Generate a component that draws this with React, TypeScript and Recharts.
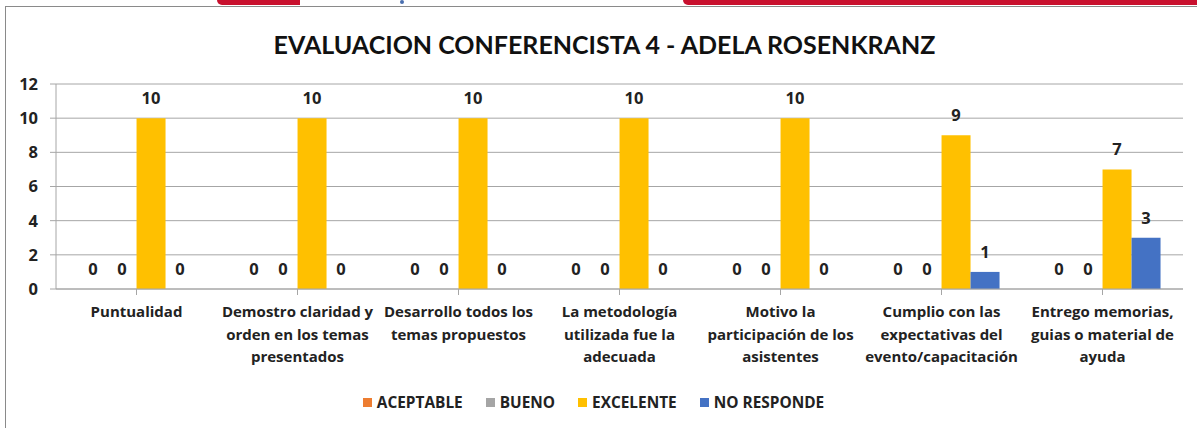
import { Bar, BarChart, CartesianGrid, LabelList, Legend, XAxis, YAxis } from "recharts";

const categories = [
  "Puntualidad",
  "Demostro claridad y\norden en los temas\npresentados",
  "Desarrollo todos los\ntemas propuestos",
  "La metodología\nutilizada fue la\nadecuada",
  "Motivo la\nparticipación de los\nasistentes",
  "Cumplio con las\nexpectativas del\nevento/capacitación",
  "Entrego memorias,\nguias o material de\nayuda",
];

const aceptable = [0, 0, 0, 0, 0, 0, 0];
const bueno = [0, 0, 0, 0, 0, 0, 0];
const excelente = [10, 10, 10, 10, 10, 9, 7];
const noResponde = [0, 0, 0, 0, 0, 1, 3];

const yTicks = [0, 2, 4, 6, 8, 10, 12];

const SERIES = [
  { key: "aceptable", name: "ACEPTABLE", color: "#ED7D31" },
  { key: "bueno", name: "BUENO", color: "#A5A5A5" },
  { key: "excelente", name: "EXCELENTE", color: "#FFC000" },
  { key: "noResponde", name: "NO RESPONDE", color: "#4472C4" },
];

const TITLE_FONT = "Lato, sans-serif";
const FONT = "'Open Sans', sans-serif";

const data = categories.map((c, i) => ({
  name: c,
  aceptable: aceptable[i],
  bueno: bueno[i],
  excelente: excelente[i],
  noResponde: noResponde[i],
}));

function CategoryTick({ x, y, payload }: any) {
  const lines = String(payload.value).split("\n");
  return (
    <text x={x} y={y + 20} textAnchor="middle" fontFamily={FONT} fontWeight={700} fontSize={15} fill="#222">
      {lines.map((l, i) => (
        <tspan key={i} x={x} dy={i === 0 ? 0 : 22.5}>
          {l}
        </tspan>
      ))}
    </text>
  );
}

function LegendContent() {
  return (
    <div style={{ display: "flex", justifyContent: "center", alignItems: "center", height: 36, paddingLeft: 4 }}>
      {SERIES.map((s, i) => (
        <div key={s.key} style={{ display: "flex", alignItems: "center", marginRight: i === SERIES.length - 1 ? 0 : 23 }}>
          <span style={{ width: 9, height: 9, background: s.color, display: "inline-block", marginRight: 5 }} />
          <span style={{ fontFamily: FONT, fontWeight: 700, fontSize: 15.4, color: "#222" }}>{s.name}</span>
        </div>
      ))}
    </div>
  );
}

export default function App() {
  return (
    <div style={{ position: "absolute", left: 0, top: 0, width: 1197, height: 428, background: "#fff", overflow: "hidden" }}>
      <div style={{ position: "absolute", left: 217, top: 0, width: 83, height: 5, background: "#C8102E", borderBottomLeftRadius: 40 }} />
      <div style={{ position: "absolute", left: 400, top: 0, width: 4, height: 4, background: "#4a6fb0", borderRadius: 2 }} />
      <div style={{ position: "absolute", left: 683, top: 0, width: 520, height: 5, background: "#C8102E", borderBottomLeftRadius: 6 }} />
      <div style={{ position: "absolute", left: 5, top: 6, width: 1300, height: 500, border: "1px solid #8a8a8a", boxSizing: "border-box" }} />
      <div
        style={{
          position: "absolute",
          left: 0,
          top: 28,
          width: 1209,
          textAlign: "center",
          fontFamily: TITLE_FONT,
          fontWeight: 700,
          fontSize: 25,
          color: "#111",
          lineHeight: "32px",
        }}
      >
        EVALUACION CONFERENCISTA 4 - ADELA ROSENKRANZ
      </div>
      <div style={{ position: "absolute", left: 0, top: 0 }}>
        <BarChart
          width={1197}
          height={428}
          data={data}
          margin={{ top: 84, right: 14, left: 0, bottom: 8 }}
          barCategoryGap="14%"
          barGap={0}
        >
          <CartesianGrid vertical={false} stroke="#a6a6a6" strokeWidth={1} />
          <XAxis
            dataKey="name"
            interval={0}
            height={95}
            tick={<CategoryTick />}
            axisLine={{ stroke: "#a6a6a6" }}
            tickLine={{ stroke: "#a6a6a6" }}
            tickSize={6}
            scale="band"
          />
          <YAxis
            domain={[0, 12]}
            ticks={yTicks}
            width={56}
            tickSize={6}
            tickMargin={12}
            axisLine={{ stroke: "#a6a6a6" }}
            tickLine={{ stroke: "#a6a6a6" }}
            tick={{ fontFamily: FONT, fontWeight: 700, fontSize: 16.5, fill: "#222" }}
          />
          <Legend verticalAlign="bottom" content={<LegendContent />} />
          {SERIES.map((s) => (
            <Bar key={s.key} dataKey={s.key} name={s.name} fill={s.color} minPointSize={0.01} isAnimationActive={false}>
              <LabelList
                dataKey={s.key}
                position="top"
                offset={14}
                style={{ fontFamily: FONT, fontWeight: 700, fontSize: 16.5, fill: "#222" }}
              />
            </Bar>
          ))}
        </BarChart>
      </div>
    </div>
  );
}
